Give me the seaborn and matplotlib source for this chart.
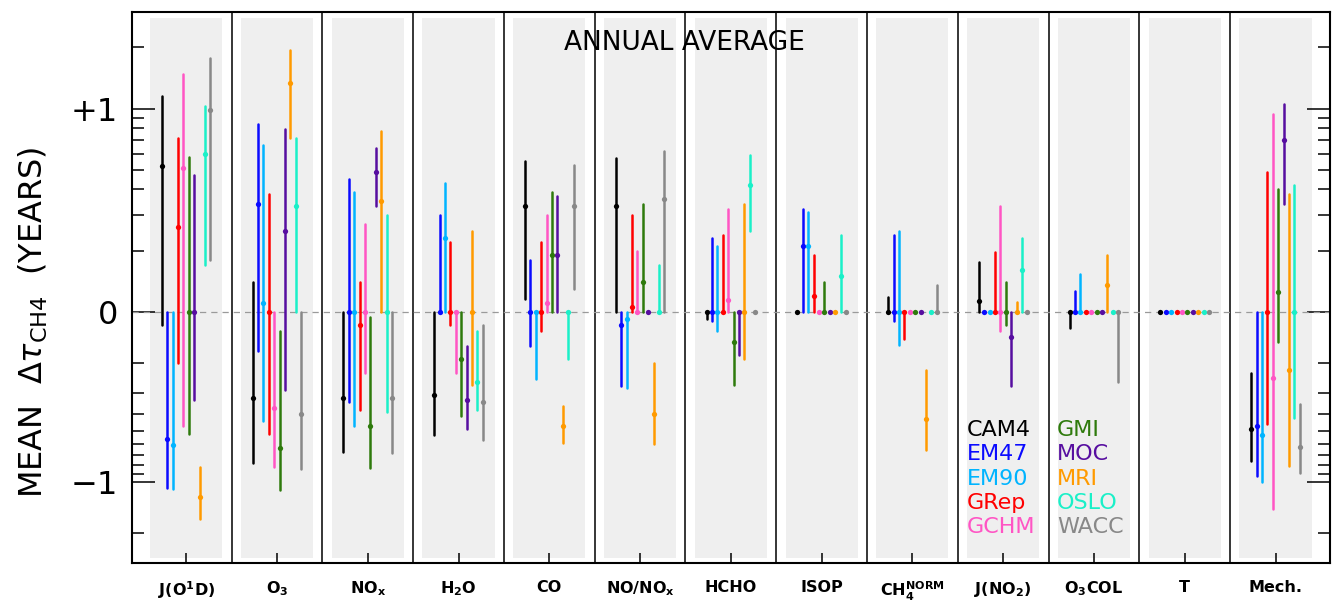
import numpy as np
import pandas as pd
import matplotlib
matplotlib.use("Agg")
import matplotlib.pyplot as plt
from matplotlib.ticker import FixedLocator
import seaborn as sns

# categories (x panels) and their printed labels
CATEGORIES = ["J(O1D)", "O3", "NOx", "H2O", "CO", "NO/NOx", "HCHO", "ISOP",
              "CH4NORM", "J(NO2)", "O3COL", "T", "Mech."]
TICK_LABELS = ["J(O$^1$D)", "O$_3$", "NO$_x$", "H$_2$O", "CO", "NO/NO$_x$", "HCHO",
               "ISOP", "CH$_4^{NORM}$", "J(NO$_2$)", "O$_3$COL", "T", "Mech."]

MODELS = ["CAM4", "EM47", "EM90", "GRep", "GCHM", "GMI", "MOC", "MRI", "OSLO", "WACC"]
COLORS = ["#000000", "#0a0aff", "#00b4ff", "#ff0000", "#ff55c4",
          "#2e7a0c", "#570ea0", "#ff9a00", "#1af0c8", "#888888"]

# mean delta tau (years), one row per category, one column per model
MEAN = [
    [0.52, -0.56, -0.61, 0.26, 0.51, 0, 0, -1.23, 0.60, 0.99],
    [-0.32, 0.34, 0.11, 0, -0.37, -0.63, 0.25, 1.34, 0.33, -0.40],
    [-0.32, 0, 0, -0.12, 0, -0.47, 0.49, 0.35, 0, -0.32],
    [-0.31, 0, 0.23, 0, 0, -0.19, -0.33, 0, -0.26, -0.34],
    [0.33, 0, 0, 0, 0.11, 0.19, 0.19, -0.47, 0, 0.33],
    [0.33, -0.12, -0.11, 0.105, 0, 0.14, 0, -0.40, 0, 0.36],
    [0, 0, 0, 0, 0.114, -0.15, 0, 0, 0.42, 0],
    [0, 0.21, 0.21, 0.12, 0, 0, 0, 0, 0.15, 0],
    [0, 0, 0, 0, 0, 0, 0, -0.43, 0, 0],
    [0.113, 0, 0, 0, 0, 0, -0.14, 0, 0.16, 0],
    [0, 0, 0, 0, 0, 0, 0, 0.136, 0, 0],
    [0, 0, 0, 0, 0, 0, 0, 0, 0, 0],
    [-0.49, -0.47, -0.53, 0, -0.245, 0.125, 0.70, -0.22, 0, -0.62],
]
LOW = [
    [-0.12, -1.09, -1.10, -0.20, -0.47, -0.52, -0.33, -1.65, 0.17, 0.18],
    [-0.77, -0.17, -0.44, -0.52, -0.82, -1.12, -0.29, 0.72, 0, -0.84],
    [-0.67, -0.34, -0.47, -0.38, -0.23, -0.83, 0.33, 0, -0.39, -0.68],
    [-0.53, 0, 0, -0.12, -0.23, -0.41, -0.49, -0.27, -0.38, -0.57],
    [0.115, -0.16, -0.25, -0.13, 0, 0, 0, -0.59, -0.19, 0.13],
    [0, -0.275, -0.28, 0, 0, 0, 0, -0.60, 0, 0],
    [-0.11, -0.113, -0.13, 0, 0, -0.27, -0.18, -0.19, 0.25, 0],
    [0, 0, 0, 0, 0, 0, 0, 0, 0, 0],
    [0, -0.113, -0.157, -0.145, 0, 0, 0, -0.65, 0, 0],
    [0, 0, 0, 0, -0.13, -0.12, -0.275, 0, 0, 0],
    [-0.125, 0, 0, 0, 0, 0, 0, 0, 0, -0.26],
    [0, 0, 0, 0, 0, 0, 0, 0, 0, 0],
    [-0.755, -0.93, -1.0, -0.455, -1.44, -0.15, 0.34, -0.81, -0.42, -0.89],
]
HIGH = [
    [1.16, 0, 0, 0.72, 1.48, 0.58, 0.47, -0.82, 1.03, 1.78],
    [0.14, 0.84, 0.66, 0.38, 0, -0.13, 0.79, 1.95, 0.72, 0],
    [0, 0.45, 0.39, 0.14, 0.27, -0.107, 0.64, 0.78, 0.30, 0],
    [0, 0.30, 0.43, 0.22, 0, 0, -0.16, 0.25, -0.13, -0.12],
    [0.55, 0.18, 0, 0.22, 0.30, 0.39, 0.37, -0.36, 0, 0.53],
    [0.57, 0, 0, 0.30, 0.20, 0.34, 0, -0.20, 0.17, 0.62],
    [0, 0.23, 0.21, 0.24, 0.32, 0, 0, 0.34, 0.59, 0],
    [0, 0.32, 0.31, 0.19, 0, 0.14, 0, 0, 0.24, 0],
    [0.118, 0.24, 0.25, 0, 0, 0, 0, -0.22, 0, 0.136],
    [0.175, 0, 0, 0.196, 0.33, 0.14, 0, 0.112, 0.23, 0],
    [0, 0.126, 0.153, 0, 0, 0, 0, 0.19, 0, 0],
    [0, 0, 0, 0, 0, 0, 0, 0, 0, 0],
    [-0.23, 0, 0, 0.49, 0.94, 0.40, 1.05, 0.38, 0.42, -0.35],
]

# split log axis: |dtau| < 0.1 sits on zero, decades above; lower half compressed
K_NEG = 170.0 / 203.0
EPS = 1e-6


def to_axis(v):
    v = np.asarray(v, dtype=float)
    mag = np.log10(np.maximum(np.abs(v), 0.1)) + 1.0
    k = np.where(v < 0, K_NEG, 1.0)
    return np.sign(v) * k * mag + EPS * v


def from_axis(t):
    t = np.asarray(t, dtype=float)
    k = np.where(t < 0, K_NEG, 1.0)
    with np.errstate(over="ignore"):
        big = np.sign(t) * 10.0 ** (np.minimum(np.abs(t) / k, 50) - 1.0)
    return np.where(np.abs(t) <= EPS * 0.1, t / EPS, big)


rows = []
for ci, cat in enumerate(CATEGORIES):
    for mi, model in enumerate(MODELS):
        for v in (LOW[ci][mi], MEAN[ci][mi], HIGH[ci][mi]):
            rows.append({"category": cat, "model": model, "value": v})
df = pd.DataFrame(rows)

sns.set_style("ticks")
plt.rcParams["font.family"] = ["DejaVu Sans"]
plt.rcParams["mathtext.default"] = "regular"
plt.rcParams["text.color"] = "black"

fig = plt.figure(figsize=(13.43, 6.11), dpi=100)
ax = fig.add_axes([131.7 / 1343, 48 / 611, (1330 - 131.7) / 1343, 551.3 / 611])
ax.set_yscale("function", functions=(to_axis, from_axis))

sns.pointplot(
    data=df, x="category", y="value", hue="model",
    order=CATEGORIES, hue_order=MODELS,
    palette=dict(zip(MODELS, COLORS)),
    estimator="median", errorbar=lambda v: (v.min(), v.max()),
    dodge=9 * 0.0595, linestyle="none", marker="o",
    markersize=3.8, markeredgewidth=0,
    err_kws={"linewidth": 1.8}, legend=False, ax=ax,
)

ax.set_xlim(-0.6, 12.6)
ax.set_ylim(-3.0, 3.0)

for i in range(len(CATEGORIES)):
    ax.axvspan(i - 0.397, i + 0.397, ymin=0.0085, ymax=0.988,
               color="#efefef", lw=0, zorder=0)
for i in range(len(CATEGORIES) - 1):
    ax.axvline(i + 0.5, color="black", lw=1.1, zorder=1)
ax.axhline(0, color="#9a9a9a", lw=0.9, ls=(0, (5, 4)), zorder=1.5)

ax.set_xticks(range(len(CATEGORIES)))
ax.set_xticklabels(TICK_LABELS, fontweight="bold", fontsize=11.5)
ax.set_xlabel("")
ax.set_ylabel("")

ax.yaxis.set_major_locator(FixedLocator([-1, 0, 1]))
ax.set_yticklabels(["\u22121", "0", "+1"])
minor = [-2] + [-m / 10 for m in range(2, 10)] + [m / 10 for m in range(2, 10)] + [2]
ax.yaxis.set_minor_locator(FixedLocator(minor))

ax.tick_params(axis="x", direction="in", length=7, width=1.1, pad=12,
               top=False, colors="black")
ax.tick_params(axis="y", which="major", direction="in", length=16.5, width=1.1,
               left=True, right=True, labelsize=23, pad=10, colors="black")
ax.tick_params(axis="y", which="minor", direction="in", length=8.5, width=1.1,
               left=True, right=True, labelleft=False, colors="black")
for sp in ax.spines.values():
    sp.set_linewidth(1.5)
    sp.set_color("black")

fig.text(33 / 1343, 1 - 322 / 611, "MEAN  $\\Delta\\mathit{\\tau}_{CH4}$  (YEARS)",
         rotation=90, ha="center", va="center", fontsize=23, color="black")
fig.text(684 / 1343, 1 - 43 / 611, "ANNUAL AVERAGE", ha="center", va="center",
         fontsize=19, color="black")

for i, (model, color) in enumerate(zip(MODELS, COLORS)):
    col, row = divmod(i, 5)
    fig.text((967 + col * 90) / 1343, 1 - (430 + row * 24.3) / 611, model,
             color=color, ha="left", va="center", fontsize=16)

fig.savefig("out.png", dpi=100)
